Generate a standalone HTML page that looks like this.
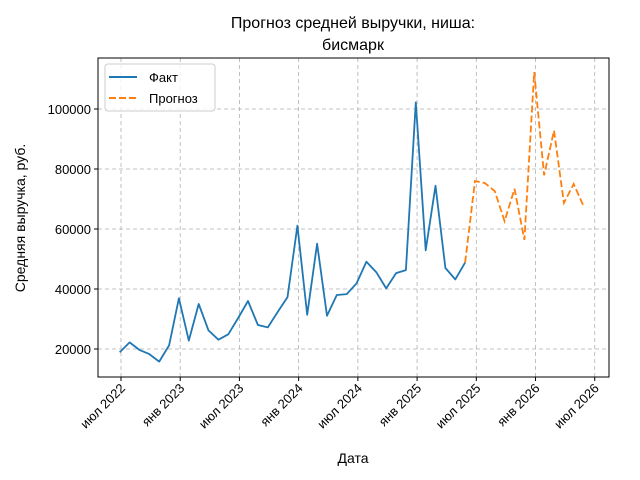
<!DOCTYPE html>
<html><head><meta charset="utf-8"><style>
html,body{margin:0;padding:0;background:#fff;}
svg{display:block;font-family:"Liberation Sans","DejaVu Sans",sans-serif;}
</style></head><body>
<svg id="chart" width="640" height="480" viewBox="0 0 640 480">
<rect width="640" height="480" fill="#fff"/>
<text x="353" y="28" text-anchor="middle" font-size="16">Прогноз средней выручки, ниша:</text>
<text x="353" y="50" text-anchor="middle" font-size="16">бисмарк</text>
<g id="grid"></g>
<g id="axes"></g>
<g id="series"></g>
<text x="353" y="463" text-anchor="middle" font-size="14">Дата</text>
<text transform="translate(25,218) rotate(-90)" text-anchor="middle" font-size="14">Средняя выручка, руб.</text>
<g>
<rect x="105" y="64" width="110" height="47" rx="3" fill="#fff" fill-opacity="0.8" stroke="#ccc"/>
<line x1="109" y1="77" x2="137" y2="77" stroke="#1f77b4" stroke-width="2"/>
<text x="149" y="82" font-size="13">Факт</text>
<line x1="109" y1="98" x2="137" y2="98" stroke="#ff7f0e" stroke-width="2" stroke-dasharray="7,3"/>
<text x="149" y="103" font-size="13">Прогноз</text>
</g>
</svg>
<script>
const factValues=[18900,22200,19700,18300,15800,21200,36900,22800,35000,26200,23100,24900,30300,36000,28000,27200,32300,37300,61100,31400,55100,31100,38000,38300,41900,49100,45600,40200,45300,46300,102200,52900,74400,47000,43200,48800];
const forecastValues=[76000,75300,72600,62600,73400,56400,112300,77900,92800,68700,75000,67600];
const yTicks=[20000,40000,60000,80000,100000];
const xTickLabels=["июл 2022","янв 2023","июл 2023","янв 2024","июл 2024","янв 2025","июл 2025","янв 2026","июл 2026"];
const NS="http://www.w3.org/2000/svg";
const L=98,R=609,T=58,B=377;
function x(i){return 119.7+9.87*i;}
function y(v){return 349-(v-20000)*0.003;}
function mk(tag,attrs,parent){const e=document.createElementNS(NS,tag);for(const k in attrs)e.setAttribute(k,attrs[k]);parent.appendChild(e);return e;}
const grid=document.getElementById('grid'),axes=document.getElementById('axes'),series=document.getElementById('series');
yTicks.forEach(v=>{
 const g=mk('line',{x1:L,x2:R,y1:y(v),y2:y(v),stroke:'#b0b0b0','stroke-dasharray':'4,3','stroke-width':0.8},grid);
 
 
 mk('line',{x1:L-4,x2:L,y1:y(v),y2:y(v),stroke:'#000'},axes);
 const t=mk('text',{x:L-7,y:y(v)+5,'text-anchor':'end','font-size':13},axes);
 t.textContent=v;
 
 
});
xTickLabels.forEach((lab,k)=>{
 const xx=x(0.13+6*k);
 const g=mk('line',{x1:xx,x2:xx,y1:T,y2:B,stroke:'#b0b0b0','stroke-dasharray':'4,3','stroke-width':0.8},grid);
 
 
 mk('line',{x1:xx,x2:xx,y1:B,y2:B+4,stroke:'#000'},axes);
 const t=mk('text',{'text-anchor':'end','font-size':13,transform:`translate(${xx+5},${B+12}) rotate(-45)`},axes);
 t.textContent=lab;
 
 
});
const fr=mk('rect',{x:L,y:T,width:R-L,height:B-T,fill:'none',stroke:'#000','stroke-width':1},axes);


const fp=factValues.map((v,i)=>x(i).toFixed(1)+','+y(v).toFixed(1)).join(' ');
const fl=mk('polyline',{points:fp,fill:'none',stroke:'#1f77b4','stroke-width':1.8,'stroke-linejoin':'round'},series);


const n=factValues.length-1;
const pp=[x(n).toFixed(1)+','+y(factValues[n]).toFixed(1)].concat(forecastValues.map((v,i)=>x(n+1+i).toFixed(1)+','+y(v).toFixed(1))).join(' ');
const pl=mk('polyline',{points:pp,fill:'none',stroke:'#ff7f0e','stroke-width':1.8,'stroke-dasharray':'7,3'},series);


</script>
</body></html>
